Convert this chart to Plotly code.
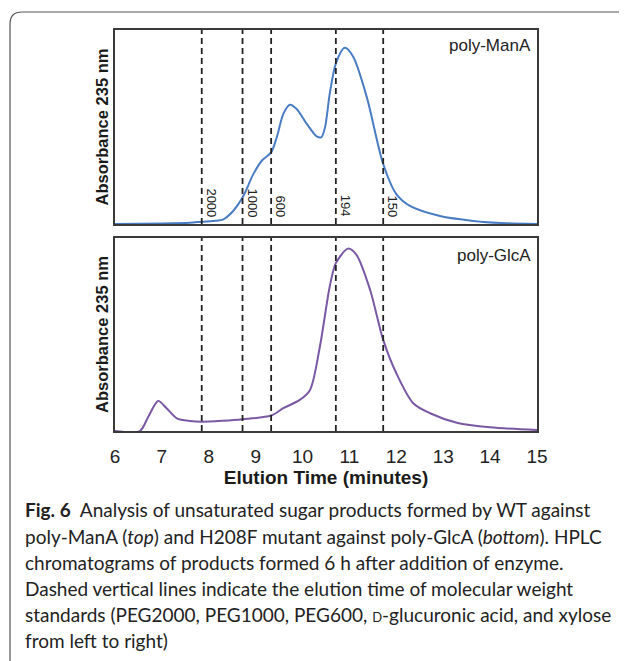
import plotly.graph_objects as go

# ---- data ----
top_time = [6.0, 7.0, 7.6, 7.85, 8.1, 8.31, 8.52, 8.72, 8.95, 9.13, 9.33, 9.45, 9.59, 9.73, 9.87,
            10.09, 10.3, 10.4, 10.48, 10.58, 10.71, 10.9, 11.08, 11.37, 11.72, 12.0, 12.29, 12.93,
            13.64, 14.35, 15.0]
top_abs = [0.0, 0.003, 0.007, 0.012, 0.016, 0.024, 0.067, 0.136, 0.257, 0.326, 0.369, 0.447, 0.568,
           0.615, 0.594, 0.516, 0.452, 0.447, 0.499, 0.672, 0.827, 0.908, 0.862, 0.654, 0.309, 0.154,
           0.093, 0.041, 0.016, 0.004, 0.0]

bot_time = [6.0, 6.53, 6.71, 6.92, 7.10, 7.32, 7.6, 7.85, 8.3, 8.72, 9.33, 9.59, 9.94, 10.16, 10.37,
            10.58, 10.71, 10.97, 11.15, 11.44, 11.72, 12.0, 12.36, 12.72, 13.29, 14.0, 15.0]
bot_abs = [0.0, 0.0, 0.074, 0.156, 0.118, 0.066, 0.052, 0.048, 0.053, 0.061, 0.080, 0.118, 0.161,
           0.213, 0.438, 0.749, 0.870, 0.945, 0.913, 0.732, 0.472, 0.299, 0.144, 0.092, 0.043, 0.019,
           0.005]

std_time = [7.85, 8.72, 9.33, 10.71, 11.72]
std_label = ["2000", "1000", "600", "194", "150"]

x_ticks = [6, 7, 8, 9, 10, 11, 12, 13, 14, 15]

caption_lines = [
    "<b>Fig. 6</b>  Analysis of unsaturated sugar products formed by WT against",
    "poly-ManA (<i>top</i>) and H208F mutant against poly-GlcA (<i>bottom</i>). HPLC",
    "chromatograms of products formed 6 h after addition of enzyme.",
    "Dashed vertical lines indicate the elution time of molecular weight",
    "standards (PEG2000, PEG1000, PEG600, <span style='font-size:13px'>D</span>-glucuronic acid, and xylose",
    "from left to right)",
]

# page body has an 8px margin: size the figure to the remaining window area
OFF = 8
W, H = 627 - OFF, 661 - OFF
def px(x): return (x - OFF) / W
def py(y): return 1 - (y - OFF) / H

fig = go.Figure()
fig.add_trace(go.Scatter(x=top_time, y=top_abs, mode="lines", xaxis="x", yaxis="y",
                         line=dict(color="#4a7cc3", width=2, shape="spline", smoothing=0.8),
                         showlegend=False, hoverinfo="skip"))
fig.add_trace(go.Scatter(x=bot_time, y=bot_abs, mode="lines", xaxis="x2", yaxis="y2",
                         line=dict(color="#7a58a4", width=2, shape="spline", smoothing=0.8),
                         showlegend=False, hoverinfo="skip"))

xdom = [px(115), px(537)]
axis_common = dict(showline=True, mirror=True, linecolor="#3a3a3a", linewidth=1.5,
                   showgrid=False, zeroline=False, ticks="", automargin=False)
fig.update_layout(
    width=W, height=H,
    margin=dict(l=0, r=0, t=0, b=0, autoexpand=False),
    paper_bgcolor="white", plot_bgcolor="white",
    font=dict(family="Liberation Sans, Arial, sans-serif", color="#1a1a1a"),
    xaxis=dict(domain=xdom, range=[6, 15], anchor="y", showticklabels=False, **axis_common),
    yaxis=dict(domain=[py(224), py(30)], range=[0, 1], anchor="x", showticklabels=False,
               title=dict(text="<b>Absorbance 235 nm</b>", font=dict(size=16.5), standoff=0),
               **axis_common),
    xaxis2=dict(domain=xdom, range=[6, 15], anchor="y2", tickmode="array", tickvals=x_ticks,
                ticktext=[str(t) for t in x_ticks], tickfont=dict(size=19, color="#222"),
                ticklabelstandoff=7,
                title=dict(text="<b>Elution Time (minutes)</b>", font=dict(size=19), standoff=2),
                **axis_common),
    yaxis2=dict(domain=[py(431), py(238)], range=[0, 1], anchor="x2", showticklabels=False,
                title=dict(text="<b>Absorbance 235 nm</b>", font=dict(size=16.5), standoff=0),
                **axis_common),
)

shapes = []
annotations = []
for t, lab in zip(std_time, std_label):
    for xr, yr in (("x", "y domain"), ("x2", "y2 domain")):
        shapes.append(dict(type="line", xref=xr, yref=yr, x0=t, x1=t, y0=0, y1=1,
                           line=dict(color="#222", width=1.8, dash="6px,4px"), layer="above"))
    annotations.append(dict(x=t, y=0.025, xref="x", yref="y domain", text=lab, textangle=90,
                            showarrow=False, xanchor="left", yanchor="bottom", xshift=0,
                            font=dict(size=13, color="#222")))

annotations.append(dict(x=0.99, y=0.92, xref="x domain", yref="y domain", text="poly-ManA",
                        showarrow=False, xanchor="right", yanchor="middle",
                        font=dict(size=17, color="#222")))
annotations.append(dict(x=0.99, y=0.91, xref="x2 domain", yref="y2 domain", text="poly-GlcA",
                        showarrow=False, xanchor="right", yanchor="middle",
                        font=dict(size=17, color="#222")))

cap_y = [510, 536, 562, 588, 614, 640]
for yy, line in zip(cap_y, caption_lines):
    annotations.append(dict(x=px(23), y=py(yy), xref="paper", yref="paper", text=line,
                            showarrow=False, xanchor="left", yanchor="middle", align="left",
                            font=dict(family="Lato, Open Sans, sans-serif", size=19, color="#222")))

# outer frame with rounded corner
r = 12
path = (f"M {px(627)},{py(12)} L {px(10 + r)},{py(12)} "
        f"Q {px(10)},{py(12)} {px(10)},{py(12 + r)} L {px(10)},{py(661)}")
shapes.append(dict(type="path", xref="paper", yref="paper", path=path,
                   line=dict(color="#555", width=1.2)))

fig.update_layout(shapes=shapes, annotations=annotations)
fig.write_html("out.html")
